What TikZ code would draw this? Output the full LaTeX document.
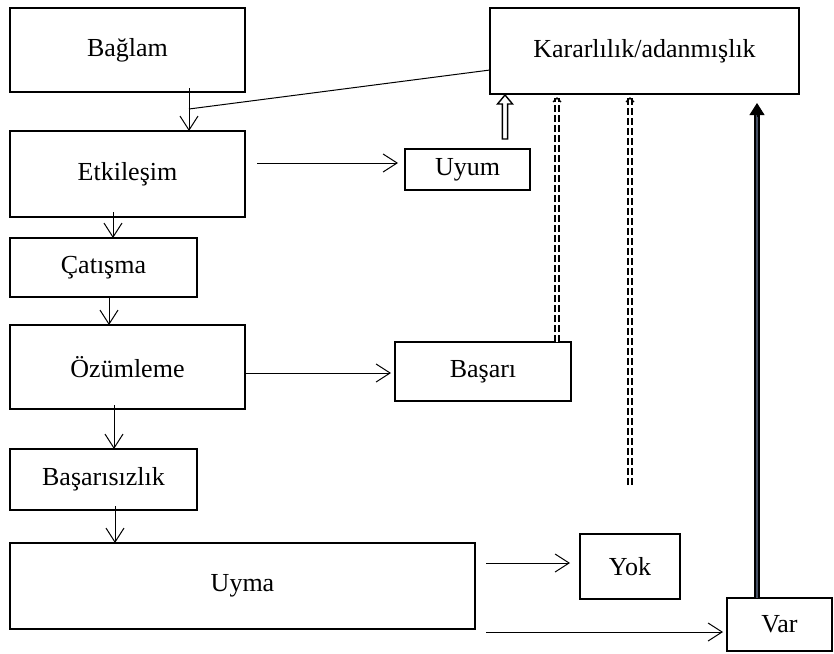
\documentclass[tikz,border=0pt]{standalone}
\usepackage{fontspec}
\setmainfont{Liberation Serif}
\usetikzlibrary{arrows.meta,calc}
\begin{document}
\begin{tikzpicture}[x=1pt,y=-1pt,
  box/.style={draw, line width=2.6pt, rectangle, inner sep=0pt, outer sep=0pt,
    font=\fontsize{26}{30}\selectfont},
  arr/.style={line width=1pt, -{Straight Barb[length=14pt,width=18pt,line width=1pt]}},
  plain/.style={line width=1pt},
  hollowarrow/.style={draw, fill=white, line width=1.4pt, line join=miter},
  dashdouble/.style={double, line width=1.4pt, double distance=2.6pt, dash pattern=on 7pt off 3pt},
  caret/.style={line width=1.2pt},
  thickarrow/.style={draw=black, line width=1.8pt, double={rgb,255:red,70;green,80;blue,100}, double distance=2.4pt},
  thicktip/.style={line width=1pt, -{Triangle[length=12pt,width=15pt]}}
]
\useasboundingbox (0,0) rectangle (834,653);

\node[box, minimum width=235, minimum height=84] (bag) at (127.5,50) {Bağlam};
\node[box, minimum width=309, minimum height=86] (karar) at (644.5,51) {Kararlılık/adanmışlık};
\node[box, minimum width=235, minimum height=86] (etk) at (127.5,174) {Etkileşim};
\node[box, minimum width=125, minimum height=41] (uyum) at (467.5,169.5) {Uyum};
\node[box, minimum width=187, minimum height=59] (cat) at (103.5,267.5) {Çatışma};
\node[box, minimum width=235, minimum height=84] (ozum) at (127.5,367) {Özümleme};
\node[box, minimum width=176, minimum height=59] (basari) at (483,371.5) {Başarı};
\node[box, minimum width=187, minimum height=61] (basz) at (103.5,479.5) {Başarısızlık};
\node[box, minimum width=465, minimum height=86] (uyma) at (242.5,586) {Uyma};
\node[box, minimum width=100, minimum height=65] (yok) at (630,566.5) {Yok};
\node[box, minimum width=105, minimum height=53] (var) at (779.5,624.5) {Var};

% left column
\coordinate (j) at (189,109);
\draw[arr] ([xshift=61.5pt,yshift=4pt]bag.south) -- ([xshift=61.5pt]etk.north);
\draw[plain] ([yshift=-19pt]karar.west) -- (j);
\draw[arr] ([xshift=-14.5pt,yshift=5pt]etk.south) -- ([xshift=9.5pt]cat.north);
\draw[arr] ([xshift=5.5pt]cat.south) -- ([xshift=-18.5pt]ozum.north);
\draw[arr] ([xshift=-13.5pt,yshift=4pt]ozum.south) -- ([xshift=10.5pt]basz.north);
\draw[arr] ([xshift=11.5pt,yshift=4pt]basz.south) -- ([xshift=-127.5pt]uyma.north);

% horizontal
\draw[arr, shorten <=12pt, shorten >=7pt] ([yshift=11pt]etk.east) -- ([yshift=11pt]etk.east -| uyum.west);
\draw[arr, shorten >=4pt] ([yshift=-6pt]ozum.east) -- ([yshift=-6pt]ozum.east -| basari.west);
\draw[arr, shorten <=11pt, shorten >=10pt] ([yshift=23pt]uyma.east) -- ([yshift=23pt]uyma.east -| yok.west);
\draw[arr, shorten <=11pt, shorten >=4pt] ([yshift=-46pt]uyma.east) -- ([yshift=-46pt]uyma.east -| var.west);

% hollow double arrow from Uyum
\coordinate (ub) at ([xshift=37.5pt,yshift=10pt]uyum.north);
\coordinate (ut) at ($(ub |- karar.south)+(0,1)$);
\draw[hollowarrow] ($(ub)+(-2.6,0)$) -- ($(ut)+(-2.6,9)$) -- ($(ut)+(-7.5,9)$) -- (ut)
  -- ($(ut)+(7.5,9)$) -- ($(ut)+(2.6,9)$) -- ($(ub)+(2.6,0)$) -- cycle;

% dashed double arrows
\coordinate (d1b) at ([xshift=74pt]basari.north);
\coordinate (d1t) at ($(d1b |- karar.south)+(0,4)$);
\draw[dashdouble] (d1b) -- (d1t);
\draw[caret] ($(d1t)+(-4,4)$) -- (d1t) -- ($(d1t)+(4,4)$);

\coordinate (d2b) at (630,485);
\coordinate (d2t) at ($(d2b |- karar.south)+(0,4)$);
\draw[dashdouble] (d2b) -- (d2t);
\draw[caret] ($(d2t)+(-4,4)$) -- (d2t) -- ($(d2t)+(4,4)$);

% thick arrow from Var
\coordinate (vb) at ([xshift=-22.5pt]var.north);
\coordinate (vt) at ($(vb |- karar.south)+(0,9)$);
\draw[thickarrow] (vb) -- ($(vt)+(0,10)$);
\draw[thicktip] ($(vt)+(0,14)$) -- (vt);
\end{tikzpicture}
\end{document}
